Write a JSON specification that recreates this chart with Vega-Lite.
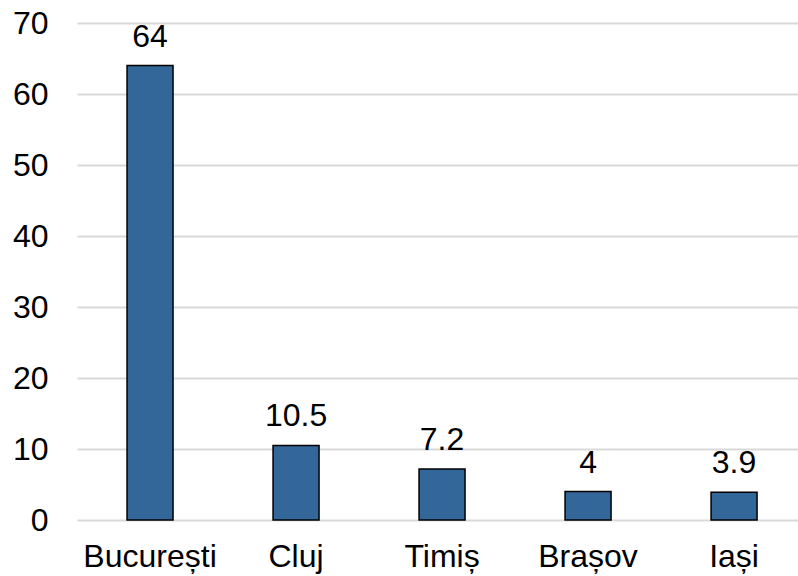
{
  "$schema": "https://vega.github.io/schema/vega-lite/v6.json",
  "width": 721,
  "height": 497,
  "autosize": "none",
  "padding": {"left": 77, "top": 23, "right": 0, "bottom": 56},
  "background": "white",
  "config": {"view": {"stroke": null}, "font": "Liberation Sans"},
  "data": {"values": [
    {"city": "București", "value": 64},
    {"city": "Cluj", "value": 10.5},
    {"city": "Timiș", "value": 7.2},
    {"city": "Brașov", "value": 4},
    {"city": "Iași", "value": 3.9}
  ]},
  "encoding": {
    "x": {"field": "city", "type": "nominal", "sort": null,
      "scale": {"paddingInner": 0.685, "paddingOuter": 0.3116, "align": 0.55},
      "axis": {"title": null, "labelAngle": 0, "domain": false, "ticks": false, "labelFontSize": 32, "labelColor": "black", "labelPadding": 21, "labelFont": "Liberation Sans"}},
    "y": {"field": "value", "type": "quantitative",
      "scale": {"domain": [0, 70], "nice": false},
      "axis": {"title": null, "values": [0,10,20,30,40,50,60,70], "domain": false, "ticks": false, "gridColor": "#d9d9d9", "gridWidth": 2, "labelFontSize": 32, "labelColor": "black", "labelPadding": 29, "labelFont": "Liberation Sans"}}
  },
  "layer": [
    {"mark": {"type": "bar", "fill": "#336699", "stroke": "black", "strokeWidth": 1.5}},
    {"mark": {"type": "text", "baseline": "alphabetic", "dy": -19, "fontSize": 32, "color": "black", "font": "Liberation Sans"},
     "encoding": {"text": {"field": "value", "type": "quantitative"}}}
  ]
}
